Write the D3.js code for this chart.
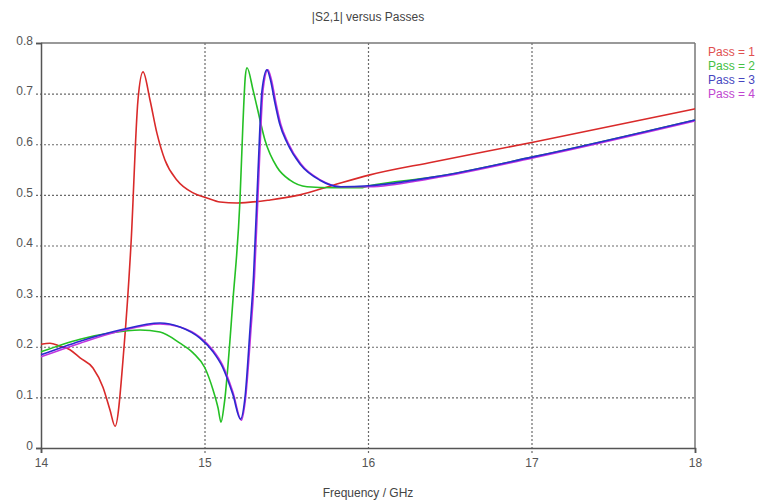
<!DOCTYPE html>
<html>
<head>
<meta charset="utf-8">
<script src="https://cdn.jsdelivr.net/npm/d3@7"></script>
<style>
  html, body { margin: 0; padding: 0; background: #fff; }
  svg { display: block; }
  text { font-family: Tahoma, "Liberation Sans", Arial, sans-serif; }
</style>
</head>
<body>
<svg id="chart" width="758" height="502"></svg>
<script>
// |S2,1| magnitude per adaptive pass (frequency in GHz)
const pass1Freq = [14.000, 14.055, 14.116, 14.177, 14.239, 14.318, 14.379, 14.422, 14.453, 14.508, 14.550, 14.593, 14.624, 14.667, 14.709, 14.758, 14.832, 14.930, 15.015, 15.095, 15.199, 15.401, 15.584, 15.786, 16.006, 16.398, 17.009, 18.000];
const pass1Vals = [0.205, 0.207, 0.201, 0.194, 0.178, 0.158, 0.120, 0.075, 0.043, 0.200, 0.400, 0.687, 0.743, 0.687, 0.622, 0.569, 0.529, 0.504, 0.494, 0.486, 0.484, 0.490, 0.500, 0.519, 0.539, 0.565, 0.604, 0.670];

const pass2Freq = [14.000, 14.239, 14.422, 14.606, 14.728, 14.850, 14.930, 15.003, 15.052, 15.083, 15.101, 15.120, 15.174, 15.217, 15.235, 15.250, 15.260, 15.297, 15.321, 15.370, 15.443, 15.523, 15.627, 15.786, 15.951, 16.006, 16.398, 17.009, 18.000];
const pass2Vals = [0.190, 0.215, 0.227, 0.233, 0.229, 0.207, 0.188, 0.158, 0.115, 0.079, 0.051, 0.085, 0.292, 0.490, 0.640, 0.735, 0.751, 0.707, 0.674, 0.608, 0.555, 0.529, 0.516, 0.514, 0.514, 0.518, 0.535, 0.575, 0.648];

const pass3Freq = [14.000, 14.239, 14.483, 14.728, 14.850, 14.972, 15.052, 15.110, 15.174, 15.220, 15.248, 15.278, 15.300, 15.327, 15.352, 15.382, 15.405, 15.430, 15.460, 15.505, 15.584, 15.706, 15.829, 16.006, 16.398, 17.009, 18.000];
const pass3Vals = [0.184, 0.211, 0.233, 0.247, 0.239, 0.217, 0.190, 0.160, 0.105, 0.057, 0.101, 0.233, 0.340, 0.543, 0.707, 0.747, 0.725, 0.683, 0.640, 0.603, 0.561, 0.529, 0.516, 0.518, 0.535, 0.575, 0.648];

const pass4Freq = [14.000, 14.239, 14.483, 14.728, 14.850, 14.972, 15.052, 15.110, 15.174, 15.226, 15.250, 15.284, 15.306, 15.333, 15.358, 15.388, 15.411, 15.436, 15.466, 15.511, 15.590, 15.712, 15.835, 16.006, 16.398, 17.009, 18.000];
const pass4Vals = [0.180, 0.207, 0.231, 0.245, 0.239, 0.219, 0.193, 0.164, 0.110, 0.055, 0.095, 0.233, 0.340, 0.543, 0.707, 0.747, 0.725, 0.683, 0.640, 0.603, 0.561, 0.529, 0.516, 0.516, 0.533, 0.573, 0.646];

const seriesNames = ["Pass = 1", "Pass = 2", "Pass = 3", "Pass = 4"];
const xTicks = [14, 15, 16, 17, 18];
const yTicks = [0, 0.1, 0.2, 0.3, 0.4, 0.5, 0.6, 0.7, 0.8];
const titleText = "|S2,1| versus Passes";
const xLabelText = "Frequency / GHz";

const lineColors = ["#d92a2a", "#25c025", "#2b2bd0", "#c233e0"];
const legendColors = ["#e05050", "#45c045", "#4545c0", "#c045d0"];

const W = 758, H = 502;
const margin = { top: 43, right: 63, bottom: 54, left: 41 };
const iw = W - margin.left - margin.right;
const ih = H - margin.top - margin.bottom;

const svg = d3.select("#chart");
const g = svg.append("g").attr("transform", `translate(${margin.left},${margin.top})`);

const x = d3.scaleLinear().domain([14, 18]).range([0, iw]);
const y = d3.scaleLinear().domain([0, 0.8]).range([ih, 0]);

// dotted grid, running slightly past the axes like tick marks
g.append("g").selectAll("line")
  .data(yTicks.filter(v => v > 0 && v < 0.8))
  .join("line")
  .attr("x1", -5).attr("x2", iw)
  .attr("y1", d => y(d) + 0.5).attr("y2", d => y(d) + 0.5)
  .attr("stroke", "#6a6a6a").attr("stroke-width", 1.2)
  .attr("stroke-dasharray", "2,2");

g.append("g").selectAll("line")
  .data(xTicks.filter(v => v > 14 && v < 18))
  .join("line")
  .attr("x1", d => x(d) + 0.5).attr("x2", d => x(d) + 0.5)
  .attr("y1", 0).attr("y2", ih + 5)
  .attr("stroke", "#6a6a6a").attr("stroke-width", 1.2)
  .attr("stroke-dasharray", "2,2");

// frame: top and right
g.append("line").attr("x1", 0).attr("x2", iw).attr("y1", 0).attr("y2", 0)
  .attr("stroke", "#777").attr("stroke-width", 1.5);
g.append("line").attr("x1", iw).attr("x2", iw).attr("y1", 0).attr("y2", ih)
  .attr("stroke", "#777").attr("stroke-width", 1.5);

// axes
const yAxis = d3.axisLeft(y).tickValues(yTicks).tickSize(5).tickPadding(3)
  .tickFormat(d => d === 0 ? "0" : d3.format(".1f")(d));
const yAxisG = g.append("g").call(yAxis);
yAxisG.select(".domain").attr("stroke", "#555").attr("stroke-width", 1.5);
yAxisG.selectAll(".tick line")
  .attr("stroke", d => (d === 0 || d === 0.8) ? "#555" : "none")
  .attr("stroke-width", 1.5);
yAxisG.selectAll(".tick text").attr("fill", "#555").style("font-size", "12px")
  .attr("dy", "0.1em");

const xAxis = d3.axisBottom(x).tickValues(xTicks).tickSize(5).tickPadding(5)
  .tickFormat(d3.format("d"));
const xAxisG = g.append("g").attr("transform", `translate(0,${ih})`).call(xAxis);
xAxisG.select(".domain").attr("stroke", "#555").attr("stroke-width", 1.5);
xAxisG.selectAll(".tick line")
  .attr("stroke", d => (d === 14 || d === 18) ? "#555" : "none")
  .attr("stroke-width", 1.5);
xAxisG.selectAll(".tick text").attr("fill", "#555").style("font-size", "12px");
svg.selectAll(".domain").attr("fill", "none");

// curves (pass 3 drawn last so it sits over pass 4)
const series = [
  { f: pass1Freq, v: pass1Vals, c: lineColors[0] },
  { f: pass2Freq, v: pass2Vals, c: lineColors[1] },
  { f: pass4Freq, v: pass4Vals, c: lineColors[3] },
  { f: pass3Freq, v: pass3Vals, c: lineColors[2] }
];

const line = d3.line()
  .x(d => x(d[0]))
  .y(d => y(d[1]))
  .curve(d3.curveMonotoneX);

g.append("g").selectAll("path")
  .data(series)
  .join("path")
  .attr("d", s => line(s.f.map((f, i) => [f, s.v[i]])))
  .attr("fill", "none")
  .attr("stroke", s => s.c)
  .attr("stroke-width", 1.6)
  .attr("stroke-linejoin", "round");

// legend
svg.append("g").selectAll("text")
  .data(seriesNames)
  .join("text")
  .attr("x", 708)
  .attr("y", (d, i) => 56 + i * 14)
  .attr("fill", (d, i) => legendColors[i])
  .style("font-size", "12px")
  .text(d => d);

// titles
svg.append("text")
  .attr("x", margin.left + iw / 2).attr("y", 21)
  .attr("text-anchor", "middle").attr("fill", "#444")
  .style("font-size", "12px")
  .text(titleText);

svg.append("text")
  .attr("x", margin.left + iw / 2).attr("y", 497)
  .attr("text-anchor", "middle").attr("fill", "#444")
  .style("font-size", "12px")
  .text(xLabelText);
</script>
</body>
</html>
